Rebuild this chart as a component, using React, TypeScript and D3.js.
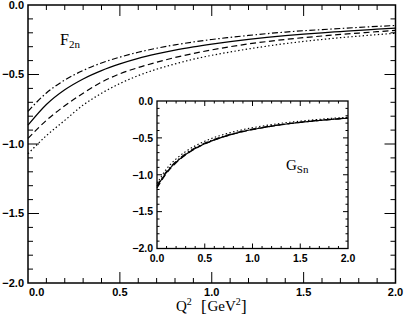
import React from "react";
import * as d3 from "d3";

// ---- data ----
const q2 = [0, 0.1, 0.2, 0.3, 0.4, 0.5, 0.6, 0.7, 0.8, 0.9, 1.0, 1.1, 1.2, 1.3, 1.4, 1.5, 1.6, 1.7, 1.8, 1.9, 2.0];

// main panel F_2n
const f2nSolid = [-0.865, -0.716, -0.61, -0.532, -0.472, -0.424, -0.384, -0.352, -0.324, -0.301, -0.281, -0.263, -0.247, -0.233, -0.221, -0.21, -0.2, -0.191, -0.182, -0.174, -0.166];
const f2nDashDot = [-0.765, -0.633, -0.54, -0.471, -0.417, -0.375, -0.34, -0.311, -0.287, -0.266, -0.248, -0.233, -0.219, -0.206, -0.195, -0.185, -0.177, -0.169, -0.161, -0.154, -0.147];
const f2nDashed = [-0.96, -0.83, -0.725, -0.635, -0.555, -0.495, -0.45, -0.412, -0.378, -0.349, -0.323, -0.3, -0.28, -0.263, -0.248, -0.235, -0.223, -0.212, -0.202, -0.192, -0.183];
const f2nDotted = [-1.07, -0.94, -0.83, -0.72, -0.635, -0.565, -0.508, -0.462, -0.424, -0.39, -0.362, -0.338, -0.316, -0.296, -0.278, -0.262, -0.248, -0.235, -0.224, -0.213, -0.204];

// inset G_Sn
const gsnSolid = [-1.16, -0.967, -0.829, -0.725, -0.644, -0.58, -0.527, -0.483, -0.446, -0.414, -0.387, -0.363, -0.341, -0.322, -0.305, -0.29, -0.276, -0.264, -0.252, -0.242, -0.232];
const gsnDashDot = [-1.15, -0.955, -0.818, -0.714, -0.634, -0.571, -0.519, -0.476, -0.44, -0.408, -0.381, -0.358, -0.336, -0.318, -0.301, -0.286, -0.272, -0.26, -0.249, -0.239, -0.229];
const gsnDashed = [-1.18, -0.98, -0.838, -0.731, -0.648, -0.583, -0.529, -0.485, -0.448, -0.415, -0.388, -0.364, -0.342, -0.323, -0.306, -0.291, -0.277, -0.265, -0.253, -0.243, -0.233];
const gsnDotted = [-1.12, -0.92, -0.785, -0.685, -0.607, -0.545, -0.495, -0.453, -0.418, -0.388, -0.362, -0.34, -0.32, -0.302, -0.287, -0.273, -0.26, -0.249, -0.238, -0.229, -0.22];

const xMajor = [0, 0.5, 1.0, 1.5, 2.0];
const yMajor = [0, -0.5, -1.0, -1.5, -2.0];
const minorVals = d3.range(0, 21).map((i) => i / 10);
const minorY = d3.range(0, 21).map((i) => -i / 10);

const fmt = (v: number) => (v < 0 ? "\u2212" : "") + Math.abs(v).toFixed(1);

const styles = [
  { key: "solid", dash: "none" },
  { key: "dashdot", dash: "6,2.5,1.5,2.5" },
  { key: "dashed", dash: "6,3.5" },
  { key: "dotted", dash: "1.4,2.4" },
];

type PanelProps = {
  x0: number; x1: number; y0: number; y1: number;
  series: number[][];
  majorLen: number; minorLen: number;
  fontSize: number; lw: number; curveW: number;
  labelGap: number; xLabelY: number; firstXLabelStart?: boolean;
};

function Panel(p: PanelProps) {
  const x = d3.scaleLinear().domain([0, 2]).range([p.x0, p.x1]);
  const y = d3.scaleLinear().domain([-2, 0]).range([p.y1, p.y0]);
  const line = d3
    .line<number>()
    .x((_, i) => x(q2[i]))
    .y((d) => y(d))
    .curve(d3.curveMonotoneX);
  const isMajorX = (v: number) => xMajor.some((m) => Math.abs(m - v) < 1e-6);
  const isMajorY = (v: number) => yMajor.some((m) => Math.abs(m - v) < 1e-6);
  const font = "'Liberation Sans', Arial, sans-serif";
  return (
    <g>
      <rect x={p.x0} y={p.y0} width={p.x1 - p.x0} height={p.y1 - p.y0} fill="white" stroke="black" strokeWidth={p.lw} />
      {minorVals.map((v, i) => {
        const L = isMajorX(v) ? p.majorLen : p.minorLen;
        if (v === 0 || v === 2) return null;
        return (
          <g key={"xt" + i}>
            <line x1={x(v)} x2={x(v)} y1={p.y1} y2={p.y1 - L} stroke="black" strokeWidth={1} />
            <line x1={x(v)} x2={x(v)} y1={p.y0} y2={p.y0 + L} stroke="black" strokeWidth={1} />
          </g>
        );
      })}
      {minorY.map((v, i) => {
        const L = isMajorY(v) ? p.majorLen : p.minorLen;
        if (v === 0 || v === -2) return null;
        return (
          <g key={"yt" + i}>
            <line x1={p.x0} x2={p.x0 + L} y1={y(v)} y2={y(v)} stroke="black" strokeWidth={1} />
            <line x1={p.x1} x2={p.x1 - L} y1={y(v)} y2={y(v)} stroke="black" strokeWidth={1} />
          </g>
        );
      })}
      {p.series.map((s, i) => (
        <path key={"s" + i} d={line(s) || ""} fill="none" stroke="black" strokeWidth={p.curveW} strokeDasharray={styles[i].dash} />
      ))}
      {yMajor.map((v, i) => (
        <text key={"yl" + i} x={p.x0 - p.labelGap} y={y(v)} dy="0.36em" textAnchor="end" fontFamily={font} fontWeight="bold" fontSize={p.fontSize}>
          {fmt(v)}
        </text>
      ))}
      {xMajor.map((v, i) => (
        <text key={"xl" + i} x={i === 0 && p.firstXLabelStart ? x(v) + 1 : x(v)} y={p.xLabelY} dy="0.36em" textAnchor={i === 0 && p.firstXLabelStart ? "start" : "middle"} fontFamily={font} fontWeight="bold" fontSize={p.fontSize}>
          {fmt(v)}
        </text>
      ))}
    </g>
  );
}

export default function App() {
  const serif = "'Liberation Serif', 'Times New Roman', serif";
  return (
    <svg width={405} height={315} style={{ position: "absolute", left: 0, top: 0, background: "white" }}>
      <rect x={0} y={0} width={405} height={315} fill="white" />
      <Panel x0={28} x1={395.5} y0={5} y1={283} series={[f2nSolid, f2nDashDot, f2nDashed, f2nDotted]} majorLen={11} minorLen={5} fontSize={11} lw={1.5} curveW={1.2} labelGap={4} xLabelY={292} firstXLabelStart />
      <Panel x0={157} x1={348} y0={101} y1={248.5} series={[gsnSolid, gsnDashDot, gsnDashed, gsnDotted]} majorLen={5} minorLen={2.5} fontSize={10.5} lw={1.3} curveW={1.1} labelGap={4} xLabelY={258.5} />
      <text x={60} y={45} fontFamily={serif} fontSize={16}>
        F<tspan fontSize={11} dy={2.5}>2n</tspan>
      </text>
      <text x={286} y={170} fontFamily={serif} fontSize={15}>
        G<tspan fontSize={11} dy={2.5}>Sn</tspan>
      </text>
      <text x={176} y={311} fontFamily={serif} fontSize={15}>
        Q<tspan fontSize={10} dy={-6}>2</tspan>
      </text>
      <text x={201} y={312} fontFamily={serif} fontSize={17}>[</text>
      <text x={207.5} y={311} fontFamily={serif} fontSize={15}>
        GeV<tspan fontSize={10} dy={-6}>2</tspan>
      </text>
      <text x={241} y={312} fontFamily={serif} fontSize={17}>]</text>
    </svg>
  );
}
